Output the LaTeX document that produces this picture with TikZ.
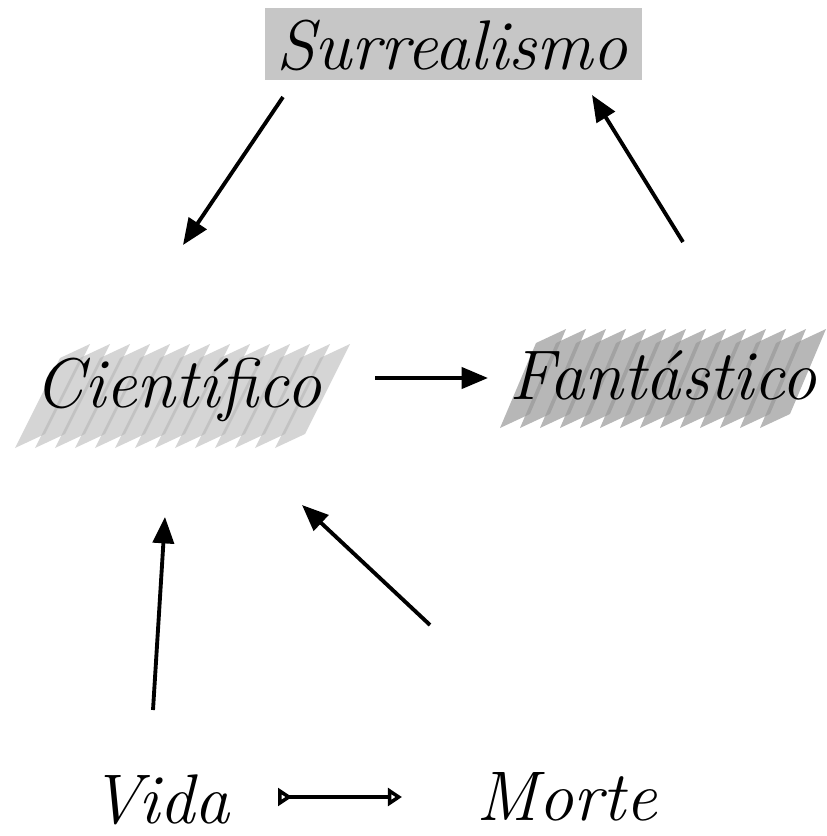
\documentclass[tikz,border=0pt]{standalone}
\usetikzlibrary{arrows.meta}
\begin{document}
\begin{tikzpicture}[x=0.02cm,y=-0.02cm,
    word/.style={font=\fontsize{40}{44}\selectfont\itshape, inner sep=0pt},
    arr/.style={line width=2.2pt, -{Triangle[length=15pt,width=12pt]}},
    pair/.style={line width=2pt, {Triangle[open,reversed,length=8pt,width=10pt]}-{Triangle[open,length=8pt,width=10pt]}},
    hlstroke/.style={fill=gray!60, opacity=0.55}]
\useasboundingbox (0,0) rectangle (826,836);

% marker under the words
\fill[gray!45] (265,8) rectangle (642,80);
\foreach \i in {0,...,13}
    \fill[hlstroke] (15+\i*20,448) -- ++(30,-14) -- ++(45,-90) -- ++(-30,14) -- cycle;
\foreach \i in {0,...,13}
    \fill[hlstroke, fill=gray!80, opacity=0.7] (500+\i*20,428) -- ++(30,-14) -- ++(36,-85) -- ++(-30,14) -- cycle;

\node[word] (sur) at (452,45) {Surrealismo};
\node[word] (cie) at (178,390) {Científico};
\node[word] (fan) at (663,375) {Fantástico};
\node[word] (vida) at (160,800) {Vida};
\node[word] (morte) at (567,797) {Morte};

\draw[arr] ([shift={(-169,52)}]sur.center) -- ([shift={(5,-145)}]cie.center);
\draw[arr] ([shift={(20,-133)}]fan.center) -- ([shift={(140,50)}]sur.center);
\draw[arr] ([shift={(197,-12)}]cie.center) -- ([shift={(-175,3)}]fan.center);
\draw[arr] ([shift={(-7,-90)}]vida.center) -- ([shift={(-13,127)}]cie.center);
\draw[arr] ([shift={(-137,-172)}]morte.center) -- ([shift={(124,115)}]cie.center);
\draw[pair] ([shift={(118,-3)}]vida.center) -- ([shift={(-165,0)}]morte.center);

\end{tikzpicture}
\end{document}
